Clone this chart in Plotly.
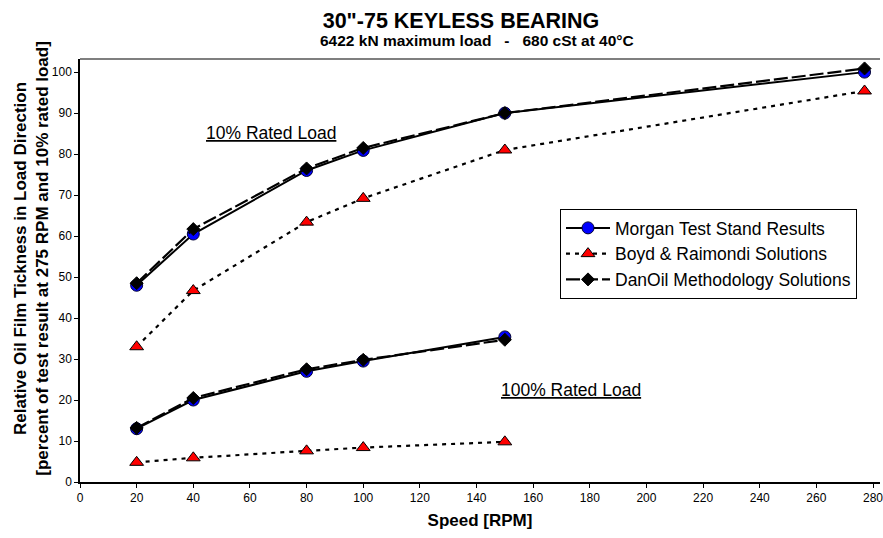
import plotly.graph_objects as go

# ---- data ----
speed_10 = [20, 40, 80, 100, 150, 277]
speed_100 = [20, 40, 80, 100, 150]

morgan_10 = [48.0, 60.5, 76.0, 80.9, 90.0, 100.0]
boyd_10 = [33.0, 46.7, 63.4, 69.2, 81.0, 95.4]
danoil_10 = [48.5, 61.7, 76.5, 81.5, 90.0, 100.9]

morgan_100 = [13.0, 20.0, 27.0, 29.5, 35.4]
boyd_100 = [4.8, 5.9, 7.6, 8.4, 9.8]
danoil_100 = [13.2, 20.5, 27.5, 29.8, 34.7]

x_ticks = list(range(0, 281, 20))
y_ticks = list(range(0, 101, 10))

FONT = "Liberation Sans, Arial, sans-serif"

def joined(a, b):
    return a + [None] + b

fig = go.Figure()

fig.add_trace(go.Scatter(
    x=joined(speed_10, speed_100), y=joined(morgan_10, morgan_100),
    name="Morgan Test Stand Results", mode="lines+markers",
    line=dict(color="black", width=2),
    marker=dict(symbol="circle", size=12, color="#0000FF",
                line=dict(color="#000033", width=1)),
))
fig.add_trace(go.Scatter(
    x=joined(speed_10, speed_100), y=joined(boyd_10, boyd_100),
    name="Boyd & Raimondi Solutions", mode="lines+markers",
    line=dict(color="black", width=2.2, dash="4px,5px"),
    marker=dict(symbol="triangle-up", size=12, color="#FF0000",
                line=dict(color="black", width=1)),
))
fig.add_trace(go.Scatter(
    x=joined(speed_10, speed_100), y=joined(danoil_10, danoil_100),
    name="DanOil Methodology Solutions", mode="lines+markers",
    line=dict(color="black", width=2.2, dash="14px,4px"),
    marker=dict(symbol="diamond", size=10, color="black",
                line=dict(color="black", width=1)),
))

fig.update_layout(
    width=883, height=538,
    margin=dict(l=80, r=0, t=59, b=56),
    paper_bgcolor="white", plot_bgcolor="white",
    font=dict(family=FONT, color="black"),
    showlegend=True,
    legend=dict(
        x=0.600, y=(482 - 209) / 423, xanchor="left", yanchor="top",
        bgcolor="white", bordercolor="black", borderwidth=1,
        font=dict(size=17.5, family=FONT, color="black"),
        traceorder="normal", tracegroupgap=0, itemwidth=44,
    ),
    xaxis=dict(
        range=[0, 282.46], tickmode="array", tickvals=x_ticks,
        ticks="outside", ticklen=4, tickcolor="black",
        showline=True, linecolor="black", linewidth=1.5,
        showgrid=False, zeroline=False, ticklabeloverflow="allow",
        tickfont=dict(size=12, family=FONT, color="black"),
        title=dict(text="<b>Speed [RPM]</b>", font=dict(size=17, family=FONT), standoff=10),
    ),
    yaxis=dict(
        range=[0, 103.2], tickmode="array", tickvals=y_ticks,
        ticks="outside", ticklen=4, tickcolor="black",
        showline=True, linecolor="black", linewidth=1.5,
        showgrid=False, zeroline=False,
        tickfont=dict(size=12, family=FONT, color="black"),
    ),
    title=dict(
        text="<b>30\"-75 KEYLESS BEARING</b>",
        x=461 / 883, xanchor="center", xref="container",
        y=1 - 20 / 538, yanchor="middle", yref="container",
        font=dict(size=21.5, family=FONT, color="black"),
    ),
)

fig.add_annotation(
    xref="paper", yref="paper",
    x=(478 - 80) / 803, y=1 + (59 - 41) / 423,
    text="<b>6422 kN maximum load   -   680 cSt at 40°C</b>",
    showarrow=False, font=dict(size=15.5, family=FONT, color="black"),
    xanchor="center", yanchor="middle",
)
fig.add_annotation(
    xref="paper", yref="paper",
    x=-(80 - 30.5) / 803, y=(482 - 258) / 423,
    text="<b>Relative Oil Film Tickness in Load Direction<br>[percent of test result at 275 RPM and 10% rated load]</b>",
    showarrow=False, textangle=-90, font=dict(size=17, family=FONT, color="black"),
    xanchor="center", yanchor="middle",
)
fig.add_annotation(
    x=67.6, y=85.1, text="<u>10% Rated Load</u>", showarrow=False,
    font=dict(size=17.5, family=FONT, color="black"),
)
fig.add_annotation(
    x=173.2, y=22.4, text="<u>100% Rated Load</u>", showarrow=False,
    font=dict(size=17.5, family=FONT, color="black"),
)
# gray top frame line
fig.add_shape(type="line", xref="paper", yref="paper", x0=0, x1=1, y0=1, y1=1,
              line=dict(color="#555555", width=1.5))

fig.write_html("out.html")
